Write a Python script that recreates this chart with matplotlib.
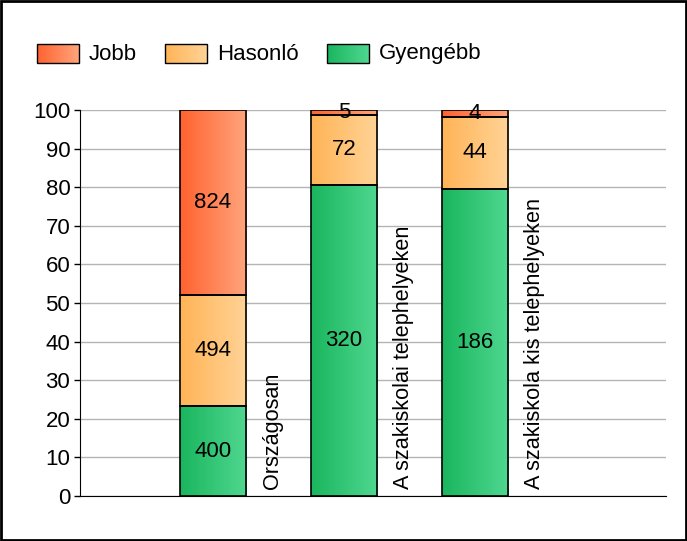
import numpy as np
import matplotlib
matplotlib.use("Agg")
import matplotlib.pyplot as plt
from matplotlib.colors import LinearSegmentedColormap
from matplotlib.patches import Rectangle

plt.rcParams['font.family'] = ['Liberation Sans', 'DejaVu Sans']

# data
categories = ["Országosan", "A szakiskolai telephelyeken", "A szakiskola kis telephelyeken"]
series_names = ["Jobb", "Hasonló", "Gyengébb"]
jobb = [824, 5, 4]
hasonlo = [494, 72, 44]
gyengebb = [400, 320, 186]
yticks = [0, 10, 20, 30, 40, 50, 60, 70, 80, 90, 100]

# gradient colours (left -> right) for each series
grad = {
    "Jobb": ("#ff6330", "#ffa47c"),
    "Hasonló": ("#ffb457", "#ffd396"),
    "Gyengébb": ("#1ab65e", "#4fd790"),
}

FS = 16

counts = np.array([gyengebb, hasonlo, jobb], dtype=float)  # stacked bottom -> top
stack_names = ["Gyengébb", "Hasonló", "Jobb"]
totals = counts.sum(axis=0)
pct = counts / totals * 100

W, H = 687, 541
fig = plt.figure(figsize=(W / 100, H / 100), dpi=100)
ax = fig.add_axes([80 / W, 1 - 496 / H, (666 - 80) / W, (496 - 110) / H])

x = np.arange(len(categories))
bw = 66 / 131
grad_img = np.linspace(0, 1, 64).reshape(1, -1)

for i in range(len(categories)):
    bottom = 0
    for k, name in enumerate(stack_names):
        h = pct[k, i]
        cmap = LinearSegmentedColormap.from_list(name, grad[name])
        ax.imshow(grad_img, cmap=cmap, aspect='auto', interpolation='bicubic',
                  extent=(x[i] - bw / 2, x[i] + bw / 2, bottom, bottom + h), zorder=2)
        ax.add_patch(Rectangle((x[i] - bw / 2, bottom), bw, h, fill=False,
                               edgecolor='black', lw=1.2, zorder=3))
        ax.text(x[i], bottom + h / 2, f"{int(counts[k, i])}", ha='center', va='center',
                fontsize=FS, zorder=4)
        bottom += h
    ax.text(x[i] + 0.455, 1.8, categories[i], rotation=90, ha='center', va='bottom',
            fontsize=15.6, zorder=4)

ax.set_xlim(-1.015, 3.458)
ax.set_ylim(0, 100)
ax.set_yticks(yticks)
ax.set_yticklabels([str(t) for t in yticks], fontsize=FS)
ax.set_xticks([])
ax.yaxis.grid(True, color='#b4b4b4', lw=1)
ax.set_axisbelow(True)
for s in ['top', 'right']:
    ax.spines[s].set_visible(False)
ax.spines['left'].set_color('black')
ax.spines['bottom'].set_color('black')
ax.tick_params(axis='y', length=4, width=1, pad=3)

# legend drawn by hand so the swatches keep their gradient
lax = fig.add_axes([0, 0, 1, 1])
lax.set_xlim(0, W)
lax.set_ylim(H, 0)
lax.axis('off')
box_x = [37, 165, 327]
for name, bx in zip(series_names, box_x):
    cmap = LinearSegmentedColormap.from_list(name, grad[name])
    lax.imshow(grad_img, cmap=cmap, aspect='auto', extent=(bx, bx + 42, 63, 44))
    lax.add_patch(Rectangle((bx, 44), 42, 19, fill=False, edgecolor='black', lw=1))
    lax.text(bx + 52, 54, name, ha='left', va='center', fontsize=FS)
lax.add_patch(Rectangle((1, 1), W - 2, H - 2, fill=False, edgecolor='black', lw=2))
lax.set_xlim(0, W)
lax.set_ylim(H, 0)

fig.savefig("out.png", dpi=100)
